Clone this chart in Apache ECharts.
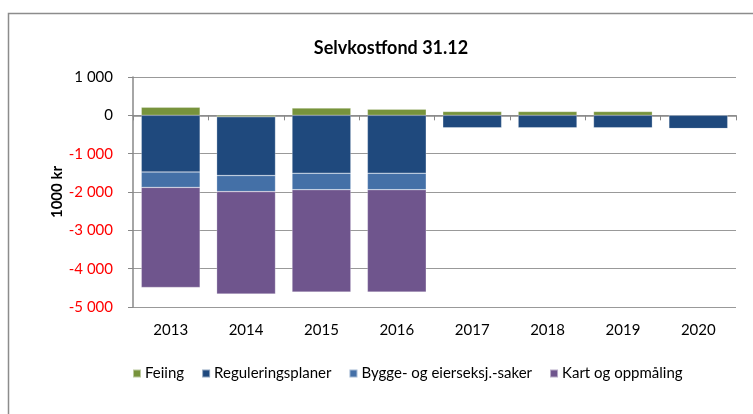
<!DOCTYPE html>
<html lang="no">
<head>
    <meta charset="UTF-8">
    <script type="text/javascript" src="https://cdn.jsdelivr.net/npm/echarts@6/dist/echarts.min.js"></script>
    <title>Selvkostfond 31.12</title>
    <style type="text/css">
        html, body { margin: 0; padding: 0; background: #fff; }
        #chart { width: 753px; height: 414px; }
    </style>
</head>
<body>
<div id="chart"></div>
<script type="text/javascript">
    // data (1000 kr)
    const years = ['2013', '2014', '2015', '2016', '2017', '2018', '2019', '2020'];
    const feiing = [210, -40, 190, 160, 100, 100, 100, 0];
    const regulering = [-1480, -1530, -1510, -1510, -330, -330, -330, -345];
    const bygge = [-400, -420, -430, -430, 0, 0, 0, 0];
    const kart = [-2610, -2670, -2670, -2670, 0, 0, 0, 0];

    const font = 'Lato, "Open Sans", sans-serif';
    let chart = echarts.init(document.getElementById('chart'));

    function fmt(v) {
        let s = Math.abs(v).toString().replace(/\B(?=(\d{3})+(?!\d))/g, ' ');
        return (v < 0 ? '-' : '') + s;
    }

    function bar(name, data, color) {
        return {
            name: name,
            type: 'bar',
            stack: 'fond',
            data: data,
            barWidth: '78%',
            itemStyle: {
                color: color,
                borderColor: 'rgba(255,255,255,0.5)',
                borderWidth: 0.5
            }
        };
    }

    let option = {
        animation: false,
        textStyle: { fontFamily: font },
        graphic: [{
            type: 'rect',
            shape: { x: 8.5, y: 13.5, width: 760, height: 420 },
            style: { fill: null, stroke: '#8c8c8c', lineWidth: 1.5 }
        }],
        title: {
            text: 'Selvkostfond 31.12',
            left: 386,
            textAlign: 'center',
            top: 34,
            textStyle: { fontFamily: font, fontSize: 18, fontWeight: 'bold', color: '#000' }
        },
        legend: {
            left: 127,
            top: 361,
            itemWidth: 8,
            itemHeight: 8,
            itemGap: 17,
            icon: 'rect',
            textStyle: { fontFamily: font, fontSize: 15, color: '#000', padding: [0, 0, 0, -1] },
            data: ['Feiing', 'Reguleringsplaner', 'Bygge- og eierseksj.-saker', 'Kart og oppmåling']
        },
        grid: { left: 133, right: 17, top: 77, bottom: 107 },
        xAxis: [{
            type: 'category',
            data: years,
            axisLine: { onZero: true, lineStyle: { color: '#888', width: 1.5 } },
            axisTick: { show: true, length: 5, lineStyle: { color: '#888' } },
            axisLabel: { show: false }
        }, {
            type: 'category',
            data: years,
            position: 'bottom',
            axisLine: { show: false, onZero: false },
            axisTick: { show: false },
            axisLabel: { margin: 16, fontFamily: font, fontSize: 15, color: '#000' }
        }],
        yAxis: {
            type: 'value',
            min: -5000,
            max: 1000,
            interval: 1000,
            name: '1000 kr',
            nameLocation: 'middle',
            nameGap: 68,
            nameMoveOverlap: false,
            nameTextStyle: { fontFamily: font, fontSize: 15, fontWeight: 'bold', color: '#000' },
            axisLine: { show: true, lineStyle: { color: '#888', width: 1.5 } },
            axisTick: { show: true, length: 5, lineStyle: { color: '#888' } },
            splitLine: { lineStyle: { color: '#999', width: 1.2 } },
            axisLabel: {
                margin: 20,
                fontFamily: font,
                fontSize: 15,
                formatter: fmt,
                color: function (v) {
                    return v < 0 ? '#ff0000' : '#000';
                }
            }
        },
        series: [
            bar('Feiing', feiing, '#77933c'),
            bar('Reguleringsplaner', regulering, '#1f497d'),
            bar('Bygge- og eierseksj.-saker', bygge, '#4470a7'),
            bar('Kart og oppmåling', kart, '#6f558d')
        ]
    };
    chart.setOption(option);
</script>
</body>
</html>
